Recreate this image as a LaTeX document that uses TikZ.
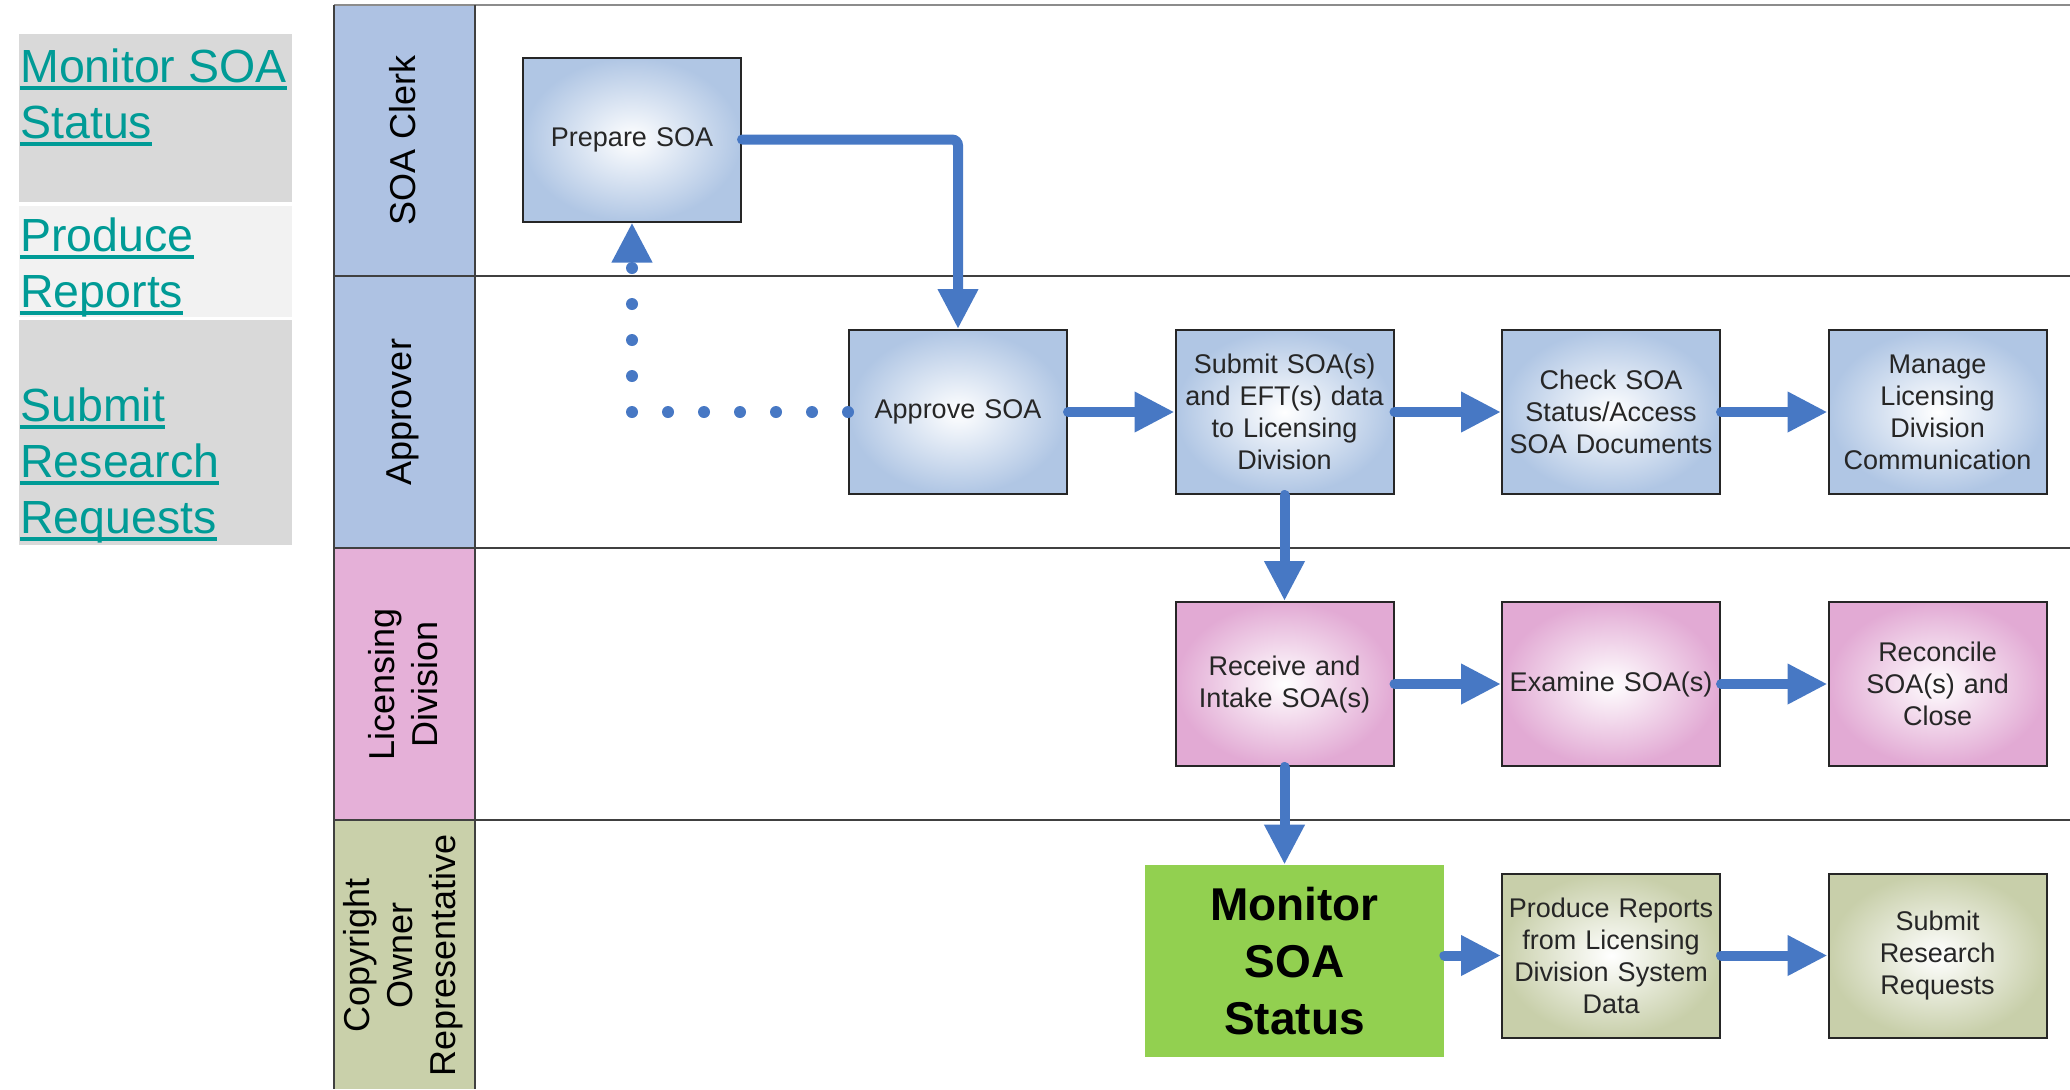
\documentclass[tikz,border=0pt]{standalone}
\usepackage{fontspec}
\setmainfont{Liberation Sans}
\usepackage{tikz}
\usetikzlibrary{arrows.meta}
\usetikzlibrary{positioning}

\definecolor{laneblue}{RGB}{174,194,227}
\definecolor{lanepink}{RGB}{229,176,216}
\definecolor{laneolive}{RGB}{201,208,170}
\definecolor{boxblue}{RGB}{176,198,228}
\definecolor{boxpink}{RGB}{226,170,212}
\definecolor{boxolive}{RGB}{200,207,170}
\definecolor{flowblue}{RGB}{71,120,196}
\definecolor{monitorgreen}{RGB}{146,208,80}
\definecolor{panelgray}{RGB}{217,217,217}
\definecolor{panellight}{RGB}{242,242,242}
\definecolor{linkteal}{RGB}{0,155,150}

\newcommand{\ulink}[1]{\setbox0\hbox{#1}\rlap{\rule[-0.17em]{\wd0}{0.08em}}\box0}

\begin{document}
\begin{tikzpicture}[
x=0.5pt, y=-0.5pt,
block/.style={rectangle, draw=black!85, line width=1pt, minimum width=109pt,
minimum height=82pt, text width=105pt, align=center, inner sep=0pt,
font=\fontsize{13.5}{16}\selectfont, text=black!85, node distance=163.25pt},
clerkbox/.style={block, inner color=white, outer color=boxblue},
licbox/.style={block, inner color=white, outer color=boxpink},
ownerbox/.style={block, inner color=white, outer color=boxolive},
monbox/.style={rectangle, fill=monitorgreen, minimum width=149.5pt, minimum height=96pt,
align=center, inner sep=0pt, font=\bfseries\fontsize{23}{28.5}\selectfont},
lanelabel/.style={rotate=90, align=center, inner sep=0pt, font=\fontsize{18}{21.5}\selectfont},
laneline/.style={draw=black!75, line width=1.3pt},
linktext/.style={anchor=north west, align=left, inner sep=0pt, text=linkteal,
font=\fontsize{23.25}{28}\selectfont},
flowarrow/.style={draw=flowblue, line width=5pt, line cap=round,
-{Triangle[width=19pt,length=20pt]}},
dotarrow/.style={flowarrow, line width=6pt, dash pattern=on 0pt off 18pt}
]
\useasboundingbox (0,0) rectangle (2070,1089);

% links on the left
\fill[panelgray] (19,34) rectangle (292,202);
\fill[panellight] (19,206) rectangle (292,317);
\fill[panelgray] (19,320) rectangle (292,545);
\node[linktext] (l1) at (20,48) {\ulink{Monitor SOA}\\\ulink{Status}};
\node[linktext] (l2) at (20,217) {\ulink{Produce}\\\ulink{Reports}};
\node[linktext] (l3) at (20,387) {\ulink{Submit}\\\ulink{Research}\\\ulink{Requests}};

% swim lanes
\fill[laneblue] (334,5) rectangle (475,276);
\fill[laneblue] (334,276) rectangle (475,548);
\fill[lanepink] (334,548) rectangle (475,820);
\fill[laneolive] (334,820) rectangle (475,1089);
\draw[laneline, draw=black!45] (334,5) -- (2070,5);
\foreach \y in {276,548,820}
  \draw[laneline] (334,\y) -- (2070,\y);
\draw[laneline] (334,5) -- (334,1089);
\draw[laneline] (475,5) -- (475,1089);
\node[lanelabel] (lane1) at (403,140.5) {SOA Clerk};
\node[lanelabel] (lane2) at (403,412) {Approver};
\node[lanelabel] (lane3) at (403,684) {Licensing\\Division};
\node[lanelabel] (lane4) at (403,955) {Copyright\\Owner\\Representative};

% steps
\node[clerkbox] (prep) at (632,139.5) {Prepare SOA};
\node[clerkbox] (appr) at (958,412) {Approve SOA};
\node[clerkbox, right of=appr] (subm) {Submit SOA(s)\\and EFT(s) data\\to Licensing\\Division};
\node[clerkbox, right of=subm] (chk) {Check SOA\\Status/Access\\SOA Documents};
\node[clerkbox, right of=chk] (mng) {Manage\\Licensing\\Division\\Communication};
\node[licbox, node distance=136pt, below of=subm] (recv) {Receive and\\Intake SOA(s)};
\node[licbox, right of=recv] (exam) {Examine SOA(s)};
\node[licbox, right of=exam] (recl) {Reconcile\\SOA(s) and\\Close};
\node[ownerbox, node distance=135.75pt, below of=exam] (prod) {Produce Reports\\from Licensing\\Division System\\Data};
\node[ownerbox, right of=prod] (rsrch) {Submit\\Research\\Requests};
\node[monbox] (mon) at (1294.5,961) {Monitor\\SOA\\Status};

% flows
\draw[flowarrow, rounded corners=3pt] (prep.east) -| (appr.north);
\draw[dotarrow] (appr.west) -| (prep.south);
\draw[flowarrow] (appr) -- (subm);
\draw[flowarrow] (subm) -- (chk);
\draw[flowarrow] (chk) -- (mng);
\draw[flowarrow] (subm) -- (recv);
\draw[flowarrow] (recv) -- (exam);
\draw[flowarrow] (exam) -- (recl);
\draw[flowarrow] (recv.south) -- (recv.south |- mon.north);
\draw[flowarrow] (mon.east |- prod) -- (prod);
\draw[flowarrow] (prod) -- (rsrch);
\end{tikzpicture}
\end{document}
